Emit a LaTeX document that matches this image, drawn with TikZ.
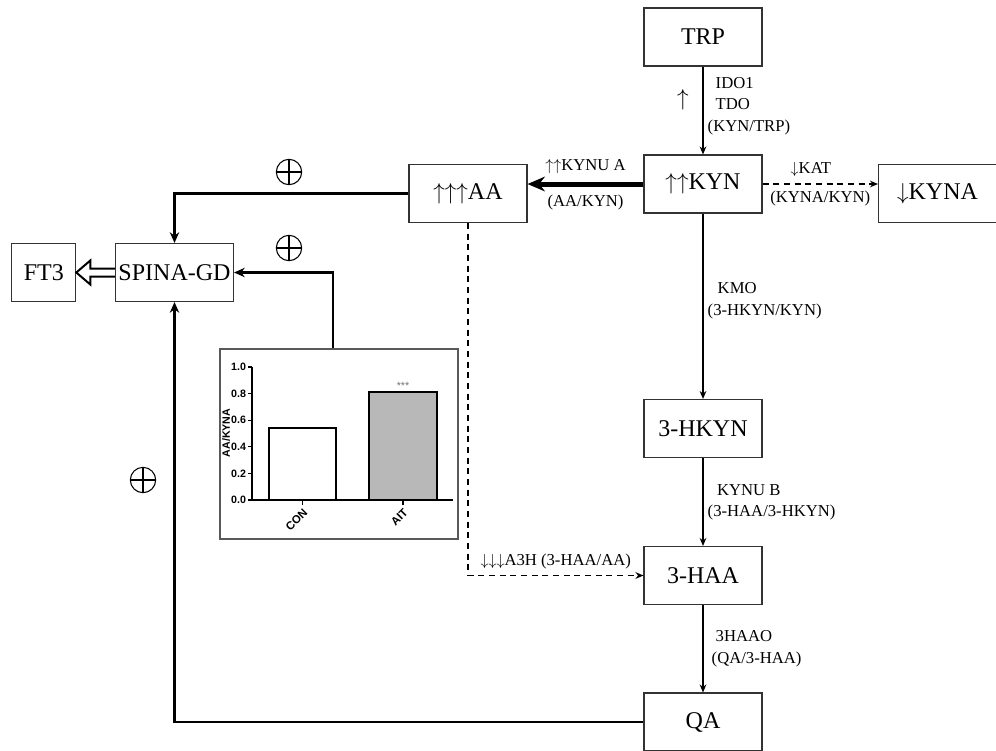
\documentclass[tikz,border=0pt]{standalone}
\usepackage{fontspec}
\setmainfont{Liberation Serif}
\newfontfamily\chartfont{Liberation Sans}
\usetikzlibrary{positioning, arrows.meta, calc}

\newcommand{\boxfont}{\fontsize{18}{20}\selectfont}
\newcommand{\labfont}{\fontsize{12.5}{16}\selectfont}

\begin{document}
\begin{tikzpicture}[x=0.75pt,y=-0.75pt,>=Stealth,semithick,
    met/.style={draw=black!80,line width=0.8pt,minimum width=88.5pt,minimum height=43.5pt,inner sep=0pt,font=\boxfont},
    enz/.style={font=\labfont,inner sep=1pt},
    flow/.style={-{Stealth[length=6pt,width=5pt]},line width=1.1pt},
    dflow/.style={flow,dash pattern=on 4.5pt off 3.5pt},
    fb/.style={-{Stealth[length=8pt,width=7pt]},line width=2.2pt},
    plusmark/.style={circle,draw,line width=0.8pt,minimum size=19pt,inner sep=0pt,
      path picture={\draw[line width=0.8pt] (path picture bounding box.north) -- (path picture bounding box.south)
        (path picture bounding box.west) -- (path picture bounding box.east);}},
    tick/.style={font=\chartfont\bfseries\fontsize{8}{9}\selectfont,inner sep=1pt}]
      \useasboundingbox (0,0) rectangle (996,750);

      % metabolites
      \node[met] (trp) at (703,37) {TRP};
      \node[met] (kyn) at (703,184) {$\uparrow\uparrow$KYN};
      \node[met] (aa) at (468,193.5) {$\uparrow\uparrow\uparrow$AA};
      \node[met] (kyna) at (937.5,193.5) {$\downarrow$KYNA};
      \node[met] (hkyn) at (703,428.5) {3-HKYN};
      \node[met] (haa) at (703,575.5) {3-HAA};
      \node[met] (qa) at (703,722) {QA};
      \node[met] (spina) at (174.5,272.5) {SPINA-GD};
      \node[met,minimum width=48pt,left=29pt of spina] (ft3) {FT3};

      % pathway
      \draw[flow] (trp) -- node[pos=0.45,right=2pt,enz,align=left] {\hspace*{6pt}IDO1\\\hspace*{6pt}TDO\\(KYN/TRP)} (kyn);
      \node[font=\boxfont] (up) at (683,100) {$\uparrow$};
      \draw[-{Stealth[length=13pt,width=11pt]},line width=3.75pt] (kyn.west) -- (kyn.west -| aa.east)
        node[midway,above=5pt,enz] {$\uparrow\uparrow$KYNU A}
        node[midway,below=5pt,enz] {(AA/KYN)};
      \draw[dflow] (kyn.east) -- (kyn.east -| kyna.west)
        node[midway,above=4pt,enz,xshift=-7pt] {$\downarrow$KAT}
        node[midway,below=4pt,enz] {(KYNA/KYN)};
      \draw[flow] (kyn) -- node[pos=0.47,right=2pt,enz,align=left] {\hspace*{7.5pt}KMO\\(3-HKYN/KYN)} (hkyn);
      \draw[flow] (hkyn) -- node[right=2pt,enz,align=left] {\hspace*{7pt}KYNU B\\(3-HAA/3-HKYN)} (haa);
      \draw[flow] (haa) -- node[right=5pt,enz,align=left] {\hspace*{3pt}3HAAO\\(QA/3-HAA)} (qa);
      \draw[dflow] (aa.south) |- node[pos=0.75,above=3pt,enz] {$\downarrow\downarrow\downarrow$A3H (3-HAA/AA)} (haa.west);

      % AA/KYNA chart
      \node[draw=black!65,line width=1.1pt,minimum width=178.5pt,minimum height=142.5pt,inner sep=0pt] (chart) at (339,444) {};
      \draw[line width=0.9pt] (252,367) -- (252,500) -- (453,500);
      \foreach \v/\t in {0/0.0,1/0.2,2/0.4,3/0.6,4/0.8,5/1.0}
        \draw[line width=0.9pt] (252,500-26.6*\v) -- (248,500-26.6*\v) node[left,tick] {\t};
      \draw[line width=1.3pt,fill=white] (269,500) rectangle (336,428);
      \draw[line width=1.3pt,fill=black!28] (369,500) rectangle (437,392);
      \draw[line width=0.9pt] (302.5,500) -- (302.5,505) node[rotate=45,anchor=north east,tick,font=\chartfont\bfseries\fontsize{8.5}{9}\selectfont] {CON};
      \draw[line width=0.9pt] (403,500) -- (403,505) node[rotate=45,anchor=north east,tick,font=\chartfont\bfseries\fontsize{8.5}{9}\selectfont] {AIT};
      \node[text=black!55,font=\chartfont\fontsize{8}{8}\selectfont,inner sep=0pt] (stars) at (403,386) {***};
      \node[tick,rotate=90] (ylab) at (226,433) {AA/KYNA};

      % feedback to SPINA-GD
      \draw[fb] (aa.west) -| (spina.north);
      \draw[fb] ([xshift=-4.5pt]chart.north) |- (spina.east);
      \draw[fb] (qa.west) -| (spina.south);
      \draw[line width=1.5pt,fill=white,line join=miter]
        ($(spina.west)+(0,-4)$) -- ($(ft3.east)+(14,-4)$) -- ($(ft3.east)+(14,-12)$) -- (ft3.east)
        -- ($(ft3.east)+(14,12)$) -- ($(ft3.east)+(14,4)$) -- ($(spina.west)+(0,4)$);
      \node[plusmark] (p1) at (289,172) {};
      \node[plusmark] (p2) at (289,248) {};
      \node[plusmark] (p3) at (143,480) {};
    \end{tikzpicture}
\end{document}
